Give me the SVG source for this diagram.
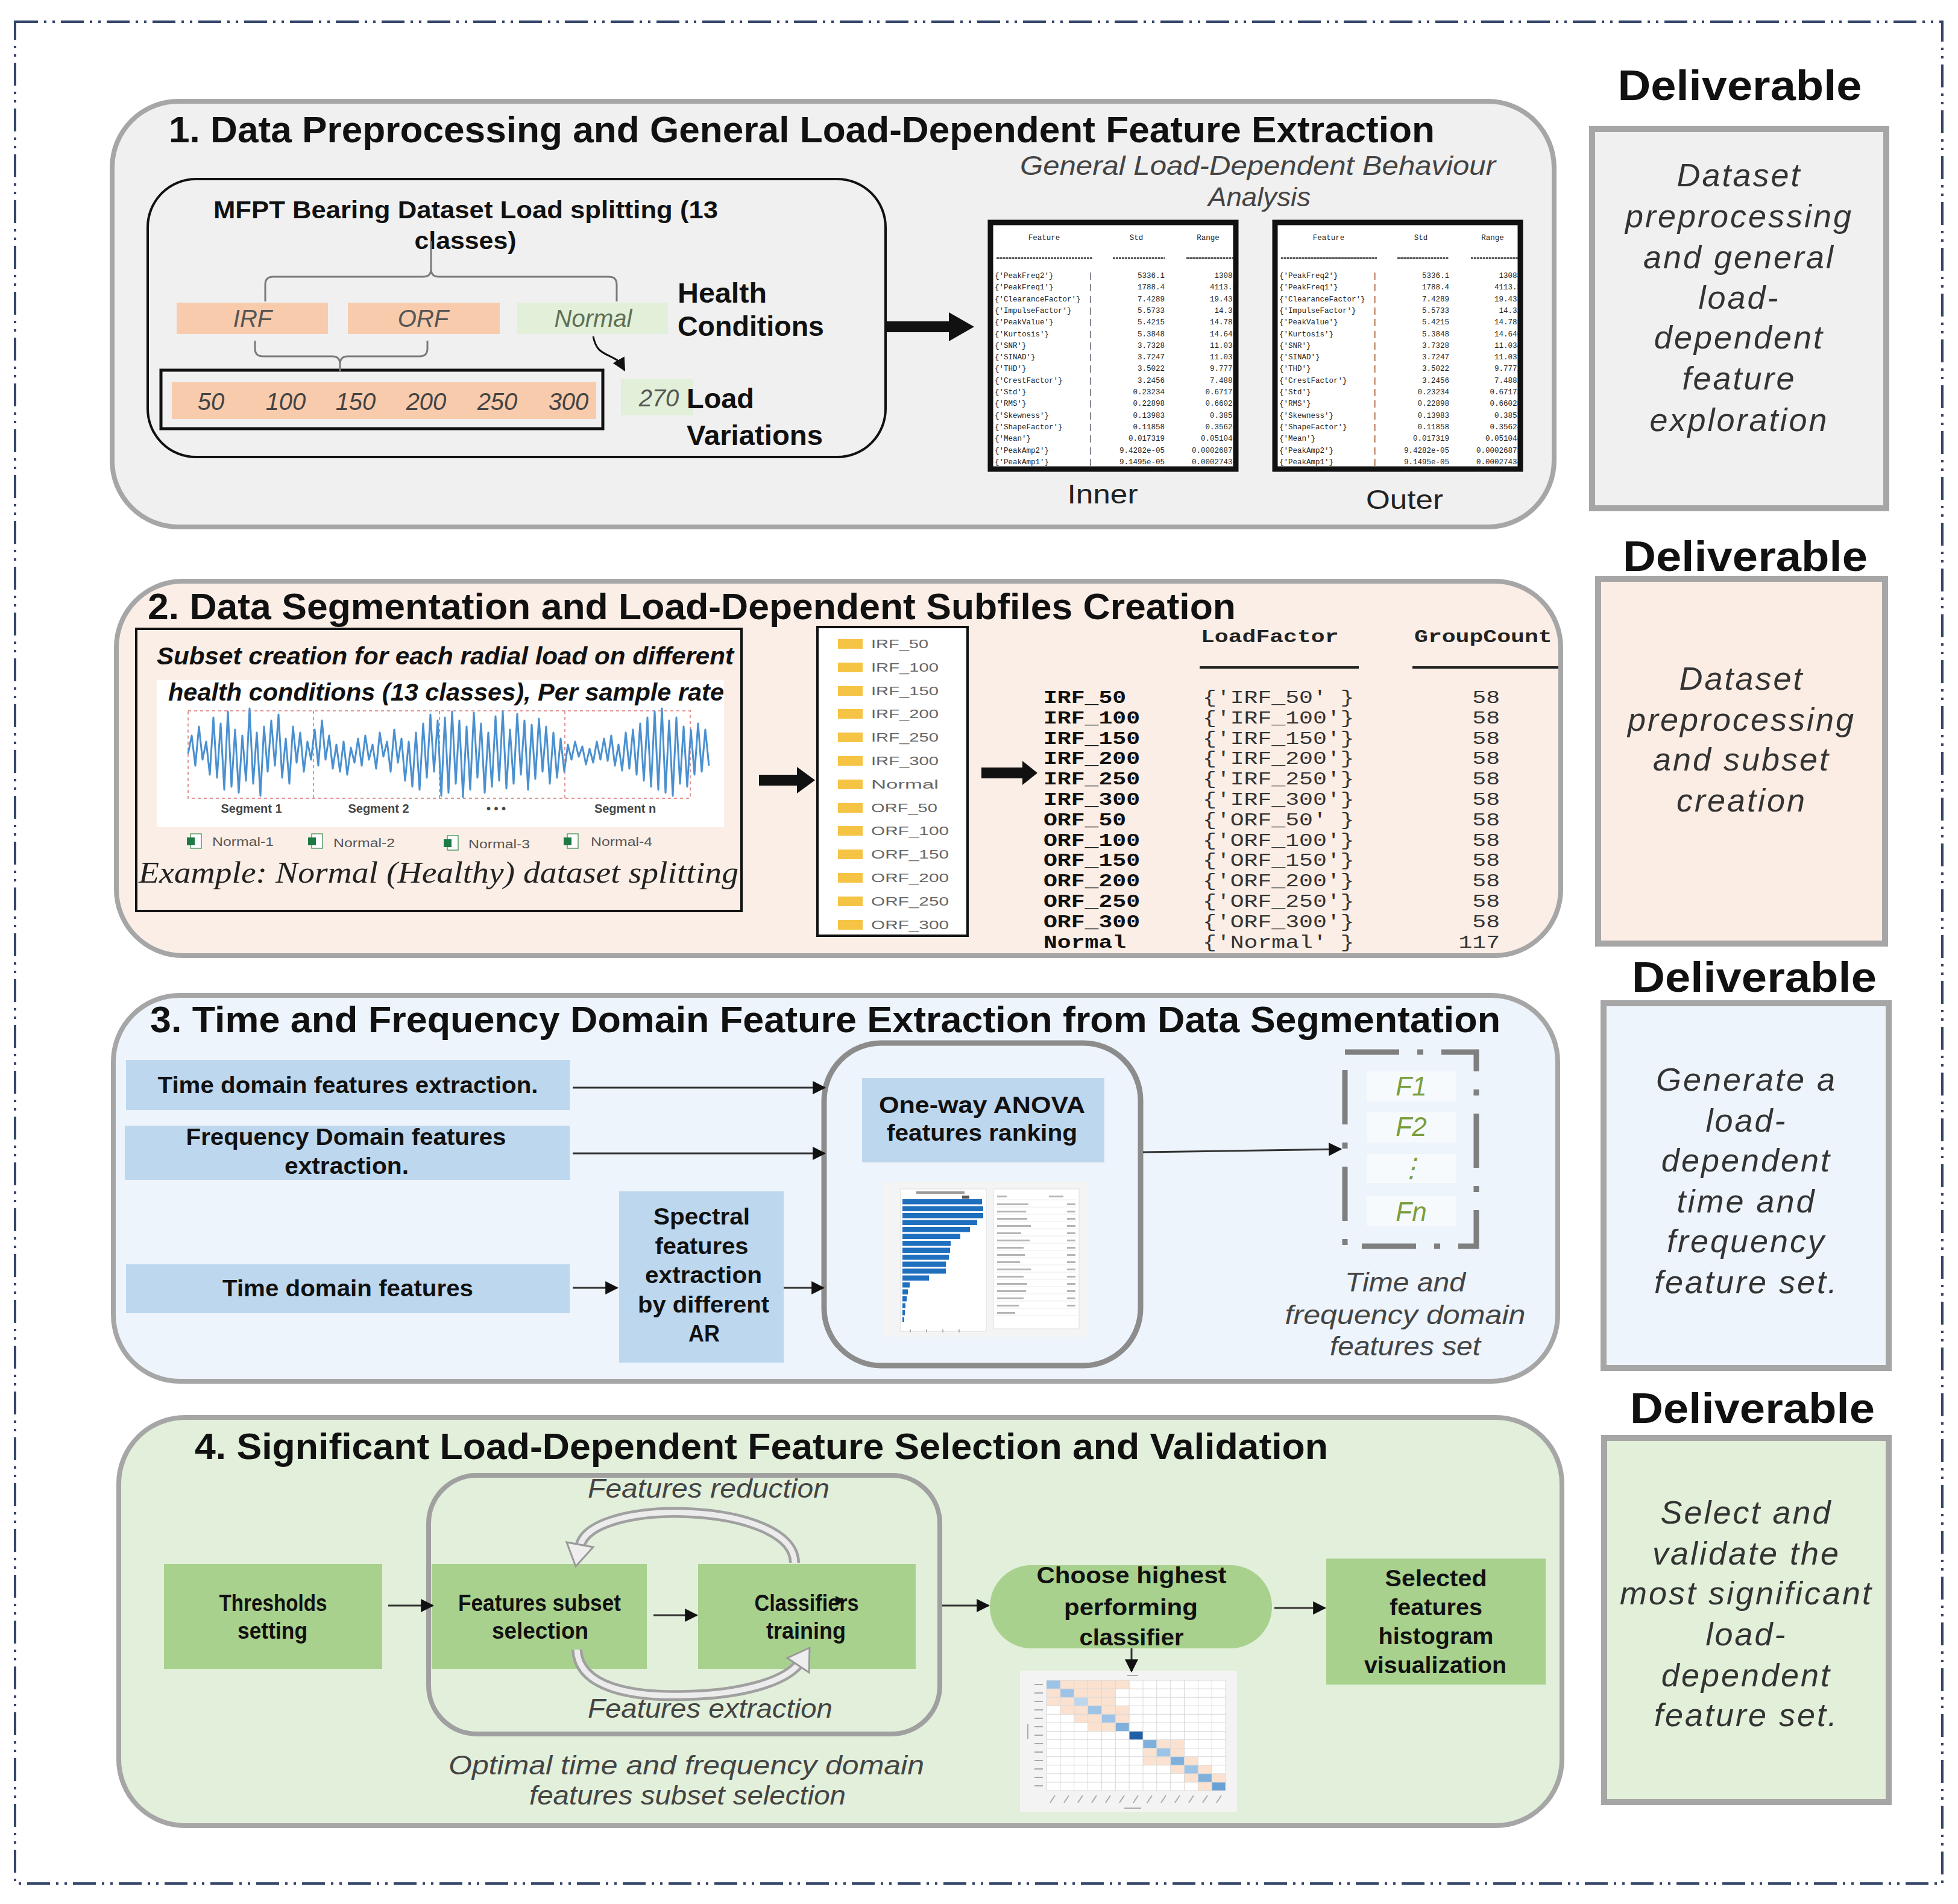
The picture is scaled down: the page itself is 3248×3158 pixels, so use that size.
<svg xmlns="http://www.w3.org/2000/svg" width="3248" height="3158" viewBox="0 0 3248 3158">
<defs>
<style>
.title{font-family:"Liberation Sans",Arial,sans-serif;font-weight:bold;font-size:62px;fill:#111}
.dt{font-family:"Liberation Sans",Arial,sans-serif;font-weight:bold;font-size:70px;fill:#111;text-anchor:middle}
.dv{font-family:"Liberation Sans",Arial,sans-serif;font-style:italic;font-size:54px;letter-spacing:3px;fill:#333;text-anchor:middle}
.dbox{stroke:#a6a6a6;stroke-width:10}
.sec{stroke:#a6a6a6;stroke-width:8}
.b{font-family:"Liberation Sans",Arial,sans-serif;font-weight:bold;font-size:38px;fill:#111;text-anchor:middle}
.bl{font-family:"Liberation Sans",Arial,sans-serif;font-weight:bold;font-size:46px;fill:#111}
.it{font-family:"Liberation Sans",Arial,sans-serif;font-style:italic;font-size:44px;fill:#444}
.hc{font-family:"Liberation Sans",Arial,sans-serif;font-style:italic;font-size:40px;fill:#555;text-anchor:middle}
.sm{font-family:"Liberation Sans",Arial,sans-serif;font-size:20px;fill:#555}
.mono{font-family:"Liberation Mono","Courier New",monospace;font-size:30px;fill:#333}
.tiny{font-family:"Liberation Mono","Courier New",monospace;font-size:12.5px;fill:#222}
.con{stroke:#333;stroke-width:3;fill:none}
.brace{stroke:#7a7a7a;stroke-width:3;fill:none}
.blue{fill:#bdd7ee}
.grn{fill:#a9d18e}
.fold{fill:#f6c445}
.oc{fill:#fbe1cf}
.dc{fill:#9dc3e6}
</style>
<marker id="ah" viewBox="0 0 10 10" refX="9" refY="5" markerWidth="22" markerHeight="22" markerUnits="userSpaceOnUse" orient="auto"><path d="M0,0 L10,5 L0,10 z" fill="#111"/></marker>
<clipPath id="tclip"><rect x="1647" y="373" width="399" height="401"/></clipPath>
<g id="tblc">
<g clip-path="url(#tclip)">
<text class="tiny" text-anchor="middle"><tspan x="1732" y="398">Feature</tspan><tspan x="1885" y="398">Std</tspan><tspan x="2004" y="398">Range</tspan></text>
<path d="M1653,428 H1812 M1846,428 H1932 M1968,428 H2046" stroke="#333" stroke-width="2.5" stroke-dasharray="4 1"/>
<text class="tiny"><tspan x="1650" y="461">{'PeakFreq2'}</tspan><tspan x="1650" y="480.3">{'PeakFreq1'}</tspan><tspan x="1650" y="499.6">{'ClearanceFactor'}</tspan><tspan x="1650" y="518.9">{'ImpulseFactor'}</tspan><tspan x="1650" y="538.2">{'PeakValue'}</tspan><tspan x="1650" y="557.5">{'Kurtosis'}</tspan><tspan x="1650" y="576.8">{'SNR'}</tspan><tspan x="1650" y="596.1">{'SINAD'}</tspan><tspan x="1650" y="615.4">{'THD'}</tspan><tspan x="1650" y="634.7">{'CrestFactor'}</tspan><tspan x="1650" y="654">{'Std'}</tspan><tspan x="1650" y="673.3">{'RMS'}</tspan><tspan x="1650" y="692.6">{'Skewness'}</tspan><tspan x="1650" y="711.9">{'ShapeFactor'}</tspan><tspan x="1650" y="731.2">{'Mean'}</tspan><tspan x="1650" y="750.5">{'PeakAmp2'}</tspan><tspan x="1650" y="769.8">{'PeakAmp1'}</tspan></text>
<text class="tiny"><tspan x="1805" y="461">|</tspan><tspan x="1805" y="480.3">|</tspan><tspan x="1805" y="499.6">|</tspan><tspan x="1805" y="518.9">|</tspan><tspan x="1805" y="538.2">|</tspan><tspan x="1805" y="557.5">|</tspan><tspan x="1805" y="576.8">|</tspan><tspan x="1805" y="596.1">|</tspan><tspan x="1805" y="615.4">|</tspan><tspan x="1805" y="634.7">|</tspan><tspan x="1805" y="654">|</tspan><tspan x="1805" y="673.3">|</tspan><tspan x="1805" y="692.6">|</tspan><tspan x="1805" y="711.9">|</tspan><tspan x="1805" y="731.2">|</tspan><tspan x="1805" y="750.5">|</tspan><tspan x="1805" y="769.8">|</tspan></text>
<text class="tiny" text-anchor="end"><tspan x="1932" y="461">5336.1</tspan><tspan x="1932" y="480.3">1788.4</tspan><tspan x="1932" y="499.6">7.4289</tspan><tspan x="1932" y="518.9">5.5733</tspan><tspan x="1932" y="538.2">5.4215</tspan><tspan x="1932" y="557.5">5.3848</tspan><tspan x="1932" y="576.8">3.7328</tspan><tspan x="1932" y="596.1">3.7247</tspan><tspan x="1932" y="615.4">3.5022</tspan><tspan x="1932" y="634.7">3.2456</tspan><tspan x="1932" y="654">0.23234</tspan><tspan x="1932" y="673.3">0.22898</tspan><tspan x="1932" y="692.6">0.13983</tspan><tspan x="1932" y="711.9">0.11858</tspan><tspan x="1932" y="731.2">0.017319</tspan><tspan x="1932" y="750.5">9.4282e-05</tspan><tspan x="1932" y="769.8">9.1495e-05</tspan></text>
<text class="tiny" text-anchor="end"><tspan x="2052" y="461">13088</tspan><tspan x="2052" y="480.3">4113.5</tspan><tspan x="2052" y="499.6">19.433</tspan><tspan x="2052" y="518.9">14.31</tspan><tspan x="2052" y="538.2">14.781</tspan><tspan x="2052" y="557.5">14.646</tspan><tspan x="2052" y="576.8">11.034</tspan><tspan x="2052" y="596.1">11.031</tspan><tspan x="2052" y="615.4">9.7771</tspan><tspan x="2052" y="634.7">7.4881</tspan><tspan x="2052" y="654">0.67172</tspan><tspan x="2052" y="673.3">0.66028</tspan><tspan x="2052" y="692.6">0.3853</tspan><tspan x="2052" y="711.9">0.35624</tspan><tspan x="2052" y="731.2">0.051048</tspan><tspan x="2052" y="750.5">0.00026873</tspan><tspan x="2052" y="769.8">0.00027434</tspan></text>
</g>
</g>
</defs>
<rect x="0" y="0" width="3248" height="3158" fill="#ffffff"/>
<rect id="outer-border" x="25" y="36" width="3197" height="3088" fill="none" stroke="#34456a" stroke-width="4" stroke-dasharray="38 10 4 10 4 10"/>

<!-- Section 1 -->
<g id="section1">
<rect x="186" y="168" width="2392" height="706" rx="110" fill="#f0f0f0" class="sec"/>
<text class="title" x="280" y="236" textLength="2100" lengthAdjust="spacingAndGlyphs">1. Data Preprocessing and General Load-Dependent Feature Extraction</text>
</g>
<g id="mfpt-box">
<rect x="245" y="297" width="1224" height="461" rx="80" fill="none" stroke="#111" stroke-width="4"/>
<text x="354" y="362" font-family="Liberation Sans, Arial, sans-serif" font-weight="bold" font-size="40" fill="#111" textLength="837" lengthAdjust="spacingAndGlyphs">MFPT Bearing Dataset Load splitting  (13</text>
<text x="772" y="413" font-family="Liberation Sans, Arial, sans-serif" font-weight="bold" font-size="40" fill="#111" text-anchor="middle" textLength="169" lengthAdjust="spacingAndGlyphs">classes)</text>
</g>
<g id="irf">
<rect x="293" y="502" width="251" height="52" fill="#f8cbad"/>
<text class="hc" x="419" y="542">IRF</text>
</g>
<g id="orf">
<rect x="577" y="502" width="252" height="52" fill="#f8cbad"/>
<text class="hc" x="702" y="542">ORF</text>
</g>
<g id="normal">
<rect x="858" y="502" width="250" height="52" fill="#e2efd9"/>
<text class="hc" x="984" y="542" style="fill:#5f6f55">Normal</text>
</g>
<g id="health-label">
<text class="bl" x="1124" y="502" textLength="148" lengthAdjust="spacingAndGlyphs">Health</text>
<text class="bl" x="1124" y="557" textLength="243" lengthAdjust="spacingAndGlyphs">Conditions</text>
</g>
<g id="loads">
<rect x="267" y="614" width="733" height="97" fill="none" stroke="#111" stroke-width="5"/>
<rect x="285" y="634" width="704" height="61" fill="#f8cbad"/>
<text class="hc" style="fill:#444" y="680"><tspan x="350">50</tspan><tspan x="474">100</tspan><tspan x="590">150</tspan><tspan x="707">200</tspan><tspan x="825">250</tspan><tspan x="943">300</tspan></text>
</g>
<g id="load270">
<rect x="1030" y="629" width="120" height="60" fill="#e2efd9"/>
<text class="hc" x="1093" y="674">270</text>
</g>
<g id="load-label">
<text class="bl" x="1139" y="677" textLength="112" lengthAdjust="spacingAndGlyphs">Load</text>
<text class="bl" x="1139" y="738" textLength="226" lengthAdjust="spacingAndGlyphs">Variations</text>
</g>
<g id="behaviour-label">
<text class="it" x="1692" y="290" textLength="789" lengthAdjust="spacingAndGlyphs">General Load-Dependent Behaviour</text>
<text class="it" x="2089" y="342" text-anchor="middle" textLength="170" lengthAdjust="spacingAndGlyphs">Analysis</text>
</g>
<g id="inner-table">
<rect x="1643" y="369" width="407" height="409" fill="#fff" stroke="#111" stroke-width="9"/>
<use href="#tblc"/>
<text x="1829" y="835" font-family="Liberation Sans, Arial, sans-serif" font-size="44" fill="#222" text-anchor="middle" textLength="117" lengthAdjust="spacingAndGlyphs">Inner</text>
</g>
<g id="outer-table">
<rect x="2115" y="369" width="407" height="409" fill="#fff" stroke="#111" stroke-width="9"/>
<use href="#tblc" x="472"/>
<text x="2330" y="844" font-family="Liberation Sans, Arial, sans-serif" font-size="44" fill="#222" text-anchor="middle" textLength="128" lengthAdjust="spacingAndGlyphs">Outer</text>
</g>

<!-- Section 2 -->
<g id="section2">
<rect x="193" y="964" width="2396" height="621" rx="110" fill="#fbeee6" class="sec"/>
<text class="title" x="245" y="1027" textLength="1805" lengthAdjust="spacingAndGlyphs">2. Data Segmentation and Load-Dependent Subfiles Creation</text>
</g>
<g id="subset-box">
<rect x="226" y="1043" width="1004" height="468" fill="none" stroke="#111" stroke-width="4"/>
<rect x="260" y="1128" width="941" height="244" fill="#ffffff"/>
<text x="260" y="1102" font-family="Liberation Sans, Arial, sans-serif" font-weight="bold" font-style="italic" font-size="40" fill="#111" textLength="957" lengthAdjust="spacingAndGlyphs">Subset creation for each radial load on different</text>
<text x="279" y="1162" font-family="Liberation Sans, Arial, sans-serif" font-weight="bold" font-style="italic" font-size="40" fill="#111" textLength="922" lengthAdjust="spacingAndGlyphs">health conditions (13 classes), Per sample rate</text>
<path d="M312,1179 H1145 V1324 H312 Z M520,1179 V1324 M729,1179 V1324 M937,1179 V1324" fill="none" stroke="#e39494" stroke-width="2" stroke-dasharray="5 5"/>
<polyline fill="none" stroke="#4a90d0" stroke-width="3" stroke-linejoin="round" points="312,1250 318,1220 324,1270 330,1205 336,1260 342,1230 348,1285 354,1190 360,1290 366,1200 372,1310 378,1180 384,1305 390,1210 396,1315 402,1220 408,1295 414,1175 420,1300 426,1215 432,1320 438,1205 444,1280 450,1195 456,1270 462,1185 468,1290 474,1225 480,1300 486,1205 492,1265 498,1215 504,1280 510,1230 516,1260 522,1210 528,1270 534,1195 540,1260 546,1220 552,1275 558,1235 564,1280 570,1230 576,1285 582,1240 588,1265 594,1225 600,1270 606,1220 612,1260 618,1235 624,1275 630,1215 636,1255 642,1230 648,1280 654,1210 660,1265 666,1225 672,1295 678,1230 684,1305 690,1215 696,1310 702,1200 708,1290 714,1185 720,1280 726,1195 732,1320 738,1190 744,1315 750,1180 756,1300 762,1195 768,1322 774,1205 780,1310 786,1182 792,1290 798,1200 804,1315 810,1215 816,1305 822,1188 828,1295 834,1180 840,1308 846,1210 852,1300 858,1184 864,1285 870,1195 876,1310 882,1202 888,1292 894,1192 900,1280 906,1205 912,1300 918,1215 924,1290 930,1225 936,1280 942,1235 948,1260 954,1230 960,1255 966,1238 972,1268 978,1242 984,1265 990,1230 996,1260 1002,1225 1008,1262 1014,1220 1020,1270 1026,1235 1032,1278 1038,1215 1044,1275 1050,1210 1056,1285 1062,1200 1068,1295 1074,1190 1080,1305 1086,1180 1092,1310 1098,1175 1104,1315 1110,1195 1116,1320 1122,1190 1128,1300 1134,1205 1140,1305 1146,1210 1152,1285 1158,1200 1164,1280 1170,1210 1176,1270"/>
<text class="sm" font-weight="bold" text-anchor="middle" y="1348" style="fill:#444"><tspan x="417">Segment 1</tspan><tspan x="628">Segment 2</tspan><tspan x="823">• • •</tspan><tspan x="1037">Segment n</tspan></text>
<g>
<rect x="316" y="1383" width="18" height="24" fill="#fff" stroke="#5a9a6a" stroke-width="1.5"/><rect x="310" y="1389" width="13" height="13" fill="#1d7a45"/>
<rect x="517" y="1383" width="18" height="24" fill="#fff" stroke="#5a9a6a" stroke-width="1.5"/><rect x="511" y="1389" width="13" height="13" fill="#1d7a45"/>
<rect x="742" y="1386" width="18" height="24" fill="#fff" stroke="#5a9a6a" stroke-width="1.5"/><rect x="736" y="1392" width="13" height="13" fill="#1d7a45"/>
<rect x="941" y="1383" width="18" height="24" fill="#fff" stroke="#5a9a6a" stroke-width="1.5"/><rect x="935" y="1389" width="13" height="13" fill="#1d7a45"/>
</g>
<text class="sm" x="352" y="1403" textLength="102" lengthAdjust="spacingAndGlyphs">Normal-1</text>
<text class="sm" x="553" y="1405" textLength="102" lengthAdjust="spacingAndGlyphs">Normal-2</text>
<text class="sm" x="777" y="1407" textLength="102" lengthAdjust="spacingAndGlyphs">Normal-3</text>
<text class="sm" x="980" y="1403" textLength="102" lengthAdjust="spacingAndGlyphs">Normal-4</text>
<text x="230" y="1464" font-family="Liberation Serif, 'Times New Roman', serif" font-style="italic" font-size="50" fill="#222" textLength="995" lengthAdjust="spacingAndGlyphs">Example: Normal (Healthy) dataset splitting</text>
</g>
<g id="folder-list">
<rect x="1356" y="1040" width="249" height="512" fill="#ffffff" stroke="#111" stroke-width="4"/>
<g>
<rect class="fold" x="1390" y="1060" width="41" height="16"/>
<rect class="fold" x="1390" y="1099" width="41" height="16"/>
<rect class="fold" x="1390" y="1138" width="41" height="16"/>
<rect class="fold" x="1390" y="1176" width="41" height="16"/>
<rect class="fold" x="1390" y="1215" width="41" height="16"/>
<rect class="fold" x="1390" y="1254" width="41" height="16"/>
<rect class="fold" x="1390" y="1293" width="41" height="16"/>
<rect class="fold" x="1390" y="1332" width="41" height="16"/>
<rect class="fold" x="1390" y="1370" width="41" height="16"/>
<rect class="fold" x="1390" y="1409" width="41" height="16"/>
<rect class="fold" x="1390" y="1448" width="41" height="16"/>
<rect class="fold" x="1390" y="1487" width="41" height="16"/>
<rect class="fold" x="1390" y="1526" width="41" height="16"/>
</g>
<text class="sm" style="fill:#666" x="1445" y="1075" textLength="95" lengthAdjust="spacingAndGlyphs">IRF_50</text>
<text class="sm" style="fill:#666" x="1445" y="1114" textLength="112" lengthAdjust="spacingAndGlyphs">IRF_100</text>
<text class="sm" style="fill:#666" x="1445" y="1153" textLength="112" lengthAdjust="spacingAndGlyphs">IRF_150</text>
<text class="sm" style="fill:#666" x="1445" y="1191" textLength="112" lengthAdjust="spacingAndGlyphs">IRF_200</text>
<text class="sm" style="fill:#666" x="1445" y="1230" textLength="112" lengthAdjust="spacingAndGlyphs">IRF_250</text>
<text class="sm" style="fill:#666" x="1445" y="1269" textLength="112" lengthAdjust="spacingAndGlyphs">IRF_300</text>
<text class="sm" style="fill:#666" x="1445" y="1308" textLength="112" lengthAdjust="spacingAndGlyphs">Normal</text>
<text class="sm" style="fill:#666" x="1445" y="1347" textLength="110" lengthAdjust="spacingAndGlyphs">ORF_50</text>
<text class="sm" style="fill:#666" x="1445" y="1385" textLength="129" lengthAdjust="spacingAndGlyphs">ORF_100</text>
<text class="sm" style="fill:#666" x="1445" y="1424" textLength="129" lengthAdjust="spacingAndGlyphs">ORF_150</text>
<text class="sm" style="fill:#666" x="1445" y="1463" textLength="129" lengthAdjust="spacingAndGlyphs">ORF_200</text>
<text class="sm" style="fill:#666" x="1445" y="1502" textLength="129" lengthAdjust="spacingAndGlyphs">ORF_250</text>
<text class="sm" style="fill:#666" x="1445" y="1541" textLength="129" lengthAdjust="spacingAndGlyphs">ORF_300</text>
</g>
<g id="group-table">
<path d="M1990,1107 H2254 M2343,1107 H2585" stroke="#222" stroke-width="4"/>
<g transform="matrix(1.27,0,0,1,-467.37,0)">
<text class="mono" font-weight="bold" style="fill:#222" y="1065"><tspan x="1936.5">LoadFactor</tspan><tspan x="2215.3">GroupCount</tspan></text>
<text class="mono" font-weight="bold" style="fill:#111"><tspan x="1731" y="1166">IRF_50</tspan><tspan x="1731" y="1199.8">IRF_100</tspan><tspan x="1731" y="1233.6">IRF_150</tspan><tspan x="1731" y="1267.4">IRF_200</tspan><tspan x="1731" y="1301.2">IRF_250</tspan><tspan x="1731" y="1335">IRF_300</tspan><tspan x="1731" y="1368.8">ORF_50</tspan><tspan x="1731" y="1402.6">ORF_100</tspan><tspan x="1731" y="1436.4">ORF_150</tspan><tspan x="1731" y="1470.2">ORF_200</tspan><tspan x="1731" y="1504">ORF_250</tspan><tspan x="1731" y="1537.8">ORF_300</tspan><tspan x="1731" y="1571.6">Normal</tspan></text>
<text class="mono" xml:space="preserve"><tspan x="1938.9" y="1166">{'IRF_50' }</tspan><tspan x="1938.9" y="1199.8">{'IRF_100'}</tspan><tspan x="1938.9" y="1233.6">{'IRF_150'}</tspan><tspan x="1938.9" y="1267.4">{'IRF_200'}</tspan><tspan x="1938.9" y="1301.2">{'IRF_250'}</tspan><tspan x="1938.9" y="1335">{'IRF_300'}</tspan><tspan x="1938.9" y="1368.8">{'ORF_50' }</tspan><tspan x="1938.9" y="1402.6">{'ORF_100'}</tspan><tspan x="1938.9" y="1436.4">{'ORF_150'}</tspan><tspan x="1938.9" y="1470.2">{'ORF_200'}</tspan><tspan x="1938.9" y="1504">{'ORF_250'}</tspan><tspan x="1938.9" y="1537.8">{'ORF_300'}</tspan><tspan x="1938.9" y="1571.6">{'Normal' }</tspan></text>
<text class="mono" text-anchor="end"><tspan x="2327.1" y="1166">58</tspan><tspan x="2327.1" y="1199.8">58</tspan><tspan x="2327.1" y="1233.6">58</tspan><tspan x="2327.1" y="1267.4">58</tspan><tspan x="2327.1" y="1301.2">58</tspan><tspan x="2327.1" y="1335">58</tspan><tspan x="2327.1" y="1368.8">58</tspan><tspan x="2327.1" y="1402.6">58</tspan><tspan x="2327.1" y="1436.4">58</tspan><tspan x="2327.1" y="1470.2">58</tspan><tspan x="2327.1" y="1504">58</tspan><tspan x="2327.1" y="1537.8">58</tspan><tspan x="2327.1" y="1571.6">117</tspan></text>
</g>
</g>

<!-- Section 3 -->
<g id="section3">
<rect x="188" y="1651" width="2396" height="640" rx="110" fill="#edf4fb" class="sec"/>
<text class="title" x="249" y="1712" textLength="2240" lengthAdjust="spacingAndGlyphs">3. Time and Frequency Domain Feature Extraction from Data Segmentation</text>
</g>
<g id="time-extract">
<rect class="blue" x="209" y="1758" width="736" height="83"/>
<text class="b" x="577" y="1813" textLength="631" lengthAdjust="spacingAndGlyphs">Time domain features extraction.</text>
</g>
<g id="freq-extract">
<rect class="blue" x="207" y="1867" width="738" height="90"/>
<text class="b" x="574" y="1899" textLength="531" lengthAdjust="spacingAndGlyphs">Frequency Domain features</text>
<text class="b" x="575" y="1947" textLength="206" lengthAdjust="spacingAndGlyphs">extraction.</text>
</g>
<g id="time-features">
<rect class="blue" x="209" y="2097" width="736" height="81"/>
<text class="b" x="577" y="2150" textLength="416" lengthAdjust="spacingAndGlyphs">Time domain features</text>
</g>
<g id="spectral">
<rect class="blue" x="1027" y="1976" width="273" height="284"/>
<text class="b" x="1164" y="2031" textLength="160" lengthAdjust="spacingAndGlyphs">Spectral</text>
<text class="b" x="1164" y="2080" textLength="155" lengthAdjust="spacingAndGlyphs">features</text>
<text class="b" x="1167" y="2128" textLength="194" lengthAdjust="spacingAndGlyphs">extraction</text>
<text class="b" x="1167" y="2177" textLength="218" lengthAdjust="spacingAndGlyphs">by different</text>
<text class="b" x="1168" y="2225" textLength="52" lengthAdjust="spacingAndGlyphs">AR</text>
</g>
<g id="anova-group">
<rect x="1367" y="1730" width="525" height="535" rx="95" fill="none" stroke="#8c8c8c" stroke-width="9"/>
<rect class="blue" x="1430" y="1788" width="402" height="140"/>
<text class="b" x="1629" y="1846" font-size="40" textLength="342" lengthAdjust="spacingAndGlyphs">One-way ANOVA</text>
<text class="b" x="1629" y="1892" font-size="40" textLength="316" lengthAdjust="spacingAndGlyphs">features ranking</text>
<rect x="1466" y="1960" width="339" height="257" fill="#f4f4f4"/>
<rect x="1494" y="1972" width="142" height="236" fill="#ffffff" stroke="#dddddd" stroke-width="1"/>
<rect x="1520" y="1976" width="80" height="4" fill="#999"/>
<g fill="#1f6fbf">
<rect x="1497" y="1989" width="132" height="8.5"/>
<rect x="1497" y="2000.5" width="134" height="8.5"/>
<rect x="1497" y="2012" width="134" height="8.5"/>
<rect x="1497" y="2023.5" width="124" height="8.5"/>
<rect x="1497" y="2035" width="112" height="8.5"/>
<rect x="1497" y="2046.5" width="96" height="8.5"/>
<rect x="1497" y="2058" width="80" height="8.5"/>
<rect x="1497" y="2069.5" width="79" height="8.5"/>
<rect x="1497" y="2081" width="77" height="8.5"/>
<rect x="1497" y="2092.5" width="72" height="8.5"/>
<rect x="1497" y="2104" width="72" height="8.5"/>
<rect x="1497" y="2115.5" width="44" height="8.5"/>
<rect x="1497" y="2127" width="12" height="8.5"/>
<rect x="1497" y="2138.5" width="9" height="8.5"/>
<rect x="1497" y="2150" width="7" height="8.5"/>
<rect x="1497" y="2161.5" width="5" height="8.5"/>
<rect x="1497" y="2173" width="4" height="8.5"/>
<rect x="1497" y="2184.5" width="3" height="8.5"/>
</g>
<rect x="1596" y="1983" width="12" height="5" fill="#555"/>
<path d="M1510,2205 v5 M1537,2205 v5 M1564,2205 v5 M1591,2205 v5" stroke="#999" stroke-width="1.5"/>
<rect x="1648" y="1972" width="142" height="232" fill="#ffffff" stroke="#dddddd" stroke-width="1"/>
<g fill="#b5b5b5">
<rect x="1654" y="1983" width="16" height="3"/><rect x="1740" y="1983" width="24" height="3"/>
<rect x="1654" y="1996" width="52" height="3"/><rect x="1770" y="1996" width="14" height="3"/>
<rect x="1654" y="2008" width="48" height="3"/><rect x="1770" y="2008" width="14" height="3"/>
<rect x="1654" y="2020" width="50" height="3"/><rect x="1770" y="2020" width="14" height="3"/>
<rect x="1654" y="2032" width="56" height="3"/><rect x="1770" y="2032" width="14" height="3"/>
<rect x="1654" y="2044" width="40" height="3"/><rect x="1770" y="2044" width="14" height="3"/>
<rect x="1654" y="2056" width="54" height="3"/><rect x="1770" y="2056" width="14" height="3"/>
<rect x="1654" y="2068" width="44" height="3"/><rect x="1770" y="2068" width="14" height="3"/>
<rect x="1654" y="2080" width="46" height="3"/><rect x="1770" y="2080" width="14" height="3"/>
<rect x="1654" y="2092" width="38" height="3"/><rect x="1770" y="2092" width="14" height="3"/>
<rect x="1654" y="2104" width="56" height="3"/><rect x="1770" y="2104" width="14" height="3"/>
<rect x="1654" y="2116" width="44" height="3"/><rect x="1770" y="2116" width="14" height="3"/>
<rect x="1654" y="2128" width="50" height="3"/><rect x="1770" y="2128" width="14" height="3"/>
<rect x="1654" y="2140" width="48" height="3"/><rect x="1770" y="2140" width="14" height="3"/>
<rect x="1654" y="2152" width="44" height="3"/><rect x="1770" y="2152" width="14" height="3"/>
<rect x="1654" y="2164" width="36" height="3"/><rect x="1770" y="2164" width="14" height="3"/>
<rect x="1654" y="2176" width="30" height="3"/>
</g>
<path d="M1652,1990 H1786 M1652,2002 H1786 M1652,2014 H1786 M1652,2026 H1786 M1652,2038 H1786 M1652,2050 H1786 M1652,2062 H1786 M1652,2074 H1786 M1652,2086 H1786 M1652,2098 H1786 M1652,2110 H1786 M1652,2122 H1786 M1652,2134 H1786 M1652,2146 H1786 M1652,2158 H1786 M1652,2170 H1786 M1652,2182 H1786" stroke="#ececec" stroke-width="1"/>
</g>
<g id="feature-set">
<rect x="2231" y="1745" width="218" height="322" fill="none" stroke="#7f7f7f" stroke-width="9" stroke-dasharray="90 30 10 30"/>
<rect x="2267" y="1777" width="148" height="50" fill="#f7fafd"/>
<rect x="2267" y="1845" width="148" height="50" fill="#f7fafd"/>
<rect x="2267" y="1914" width="148" height="48" fill="#f7fafd"/>
<rect x="2267" y="1983" width="148" height="50" fill="#f7fafd"/>
<text x="2341" text-anchor="middle" font-family="Liberation Sans, Arial, sans-serif" font-style="italic" font-size="44" fill="#7a9e3e"><tspan x="2341" y="1817">F1</tspan><tspan x="2341" y="1884">F2</tspan><tspan x="2341" y="1952">⋮</tspan><tspan x="2341" y="2025">Fn</tspan></text>
<text class="it" text-anchor="middle" x="2331" y="2142" textLength="200" lengthAdjust="spacingAndGlyphs">Time and</text>
<text class="it" text-anchor="middle" x="2331" y="2196" textLength="399" lengthAdjust="spacingAndGlyphs">frequency domain</text>
<text class="it" text-anchor="middle" x="2331" y="2248" textLength="250" lengthAdjust="spacingAndGlyphs">features set</text>
</g>

<!-- Section 4 -->
<g id="section4">
<rect x="197" y="2351" width="2394" height="677" rx="110" fill="#e2efda" class="sec"/>
<text class="title" x="323" y="2420" textLength="1880" lengthAdjust="spacingAndGlyphs">4. Significant Load-Dependent Feature Selection and Validation</text>
</g>
<g id="loop-box">
<rect x="711" y="2447" width="848" height="429" rx="80" fill="none" stroke="#a0a0a0" stroke-width="8"/>
<text class="it" x="975" y="2484" textLength="401" lengthAdjust="spacingAndGlyphs">Features reduction</text>
<text class="it" x="975" y="2849" textLength="406" lengthAdjust="spacingAndGlyphs">Features extraction</text>
</g>
<g id="thresholds">
<rect class="grn" x="272" y="2594" width="362" height="174"/>
<text class="b" x="453" y="2672" textLength="179" lengthAdjust="spacingAndGlyphs">Thresholds</text>
<text class="b" x="452" y="2718" textLength="116" lengthAdjust="spacingAndGlyphs">setting</text>
</g>
<g id="subset-selection">
<rect class="grn" x="716" y="2594" width="357" height="174"/>
<text class="b" x="895" y="2672" textLength="270" lengthAdjust="spacingAndGlyphs">Features subset</text>
<text class="b" x="896" y="2718" textLength="160" lengthAdjust="spacingAndGlyphs">selection</text>
</g>
<g id="classifiers">
<rect class="grn" x="1158" y="2594" width="361" height="174"/>
<text class="b" x="1338" y="2672" textLength="173" lengthAdjust="spacingAndGlyphs">Classifiers</text>
<text class="b" x="1337" y="2718" textLength="132" lengthAdjust="spacingAndGlyphs">training</text>
</g>
<g id="choose">
<rect class="grn" x="1642" y="2596" width="468" height="138" rx="69"/>
<text class="b" x="1877" y="2626" font-size="40" textLength="315" lengthAdjust="spacingAndGlyphs">Choose highest</text>
<text class="b" x="1876" y="2679" font-size="40" textLength="222" lengthAdjust="spacingAndGlyphs">performing</text>
<text class="b" x="1877" y="2729" font-size="40" textLength="173" lengthAdjust="spacingAndGlyphs">classifier</text>
</g>
<g id="selected">
<rect class="grn" x="2200" y="2585" width="364" height="209"/>
<text class="b" x="2382" y="2631" textLength="169" lengthAdjust="spacingAndGlyphs">Selected</text>
<text class="b" x="2382" y="2679" textLength="154" lengthAdjust="spacingAndGlyphs">features</text>
<text class="b" x="2382" y="2727" textLength="191" lengthAdjust="spacingAndGlyphs">histogram</text>
<text class="b" x="2381" y="2775" textLength="236" lengthAdjust="spacingAndGlyphs">visualization</text>
</g>
<g id="optimal-label">
<text class="it" x="744" y="2943" textLength="789" lengthAdjust="spacingAndGlyphs">Optimal time and frequency domain</text>
<text class="it" x="878" y="2993" textLength="525" lengthAdjust="spacingAndGlyphs">features subset selection</text>
</g>
<g id="confusion-matrix">
<rect x="1692" y="2771" width="360" height="234" fill="#f3f3f3"/>
<rect x="1736" y="2787" width="297" height="183" fill="#ffffff"/>
<g class="oc">
<rect x="1758.9" y="2787" width="22.9" height="14.1"/><rect x="1781.7" y="2787" width="22.9" height="14.1"/><rect x="1804.6" y="2787" width="22.9" height="14.1"/><rect x="1827.4" y="2787" width="22.9" height="14.1"/><rect x="1850.3" y="2787" width="22.9" height="14.1"/>
<rect x="1736" y="2801.1" width="22.9" height="14.1"/><rect x="1781.7" y="2801.1" width="22.9" height="14.1"/><rect x="1804.6" y="2801.1" width="22.9" height="14.1"/><rect x="1827.4" y="2801.1" width="22.9" height="14.1"/>
<rect x="1736" y="2815.2" width="22.9" height="14.1"/><rect x="1758.9" y="2815.2" width="22.9" height="14.1"/><rect x="1804.6" y="2815.2" width="22.9" height="14.1"/><rect x="1827.4" y="2815.2" width="22.9" height="14.1"/>
<rect x="1758.9" y="2829.2" width="22.9" height="14.1"/><rect x="1781.7" y="2829.2" width="22.9" height="14.1"/><rect x="1827.4" y="2829.2" width="22.9" height="14.1"/><rect x="1850.3" y="2829.2" width="22.9" height="14.1"/>
<rect x="1781.7" y="2843.3" width="22.9" height="14.1"/><rect x="1804.6" y="2843.3" width="22.9" height="14.1"/><rect x="1850.3" y="2843.3" width="22.9" height="14.1"/>
<rect x="1804.6" y="2857.4" width="22.9" height="14.1"/><rect x="1827.4" y="2857.4" width="22.9" height="14.1"/>
<rect x="1918.8" y="2885.6" width="22.9" height="14.1"/><rect x="1941.7" y="2885.6" width="22.9" height="14.1"/>
<rect x="1896" y="2899.6" width="22.9" height="14.1"/><rect x="1941.7" y="2899.6" width="22.9" height="14.1"/>
<rect x="1896" y="2913.7" width="22.9" height="14.1"/><rect x="1918.8" y="2913.7" width="22.9" height="14.1"/><rect x="1964.5" y="2913.7" width="22.9" height="14.1"/>
<rect x="1941.7" y="2927.8" width="22.9" height="14.1"/><rect x="1987.4" y="2927.8" width="22.9" height="14.1"/>
<rect x="1964.5" y="2941.9" width="22.9" height="14.1"/><rect x="2010.2" y="2941.9" width="22.9" height="14.1"/>
<rect x="1987.4" y="2956" width="22.9" height="14.1"/>
</g>
<g class="dc">
<rect x="1736" y="2787" width="22.9" height="14.1"/>
<rect x="1758.9" y="2801.1" width="22.9" height="14.1"/>
<rect x="1781.7" y="2815.2" width="22.9" height="14.1" fill="#bdd7ee"/>
<rect x="1804.6" y="2829.2" width="22.9" height="14.1"/>
<rect x="1827.4" y="2843.3" width="22.9" height="14.1"/>
<rect x="1850.3" y="2857.4" width="22.9" height="14.1" fill="#7fb0dc"/>
<rect x="1873.1" y="2871.5" width="22.9" height="14.1" fill="#1f5fa8"/>
<rect x="1896" y="2885.6" width="22.9" height="14.1" fill="#7fb0dc"/>
<rect x="1918.8" y="2899.6" width="22.9" height="14.1"/>
<rect x="1941.7" y="2913.7" width="22.9" height="14.1" fill="#7fb0dc"/>
<rect x="1964.5" y="2927.8" width="22.9" height="14.1"/>
<rect x="1987.4" y="2941.9" width="22.9" height="14.1" fill="#7fb0dc"/>
<rect x="2010.2" y="2956" width="22.9" height="14.1" fill="#6aa1d4"/>
</g>
<path d="M1736,2787 V2970 M1758.9,2787 V2970 M1781.7,2787 V2970 M1804.6,2787 V2970 M1827.4,2787 V2970 M1850.3,2787 V2970 M1873.1,2787 V2970 M1896,2787 V2970 M1918.8,2787 V2970 M1941.7,2787 V2970 M1964.5,2787 V2970 M1987.4,2787 V2970 M2010.2,2787 V2970 M2033,2787 V2970 M1736,2787 H2033 M1736,2801.1 H2033 M1736,2815.2 H2033 M1736,2829.2 H2033 M1736,2843.3 H2033 M1736,2857.4 H2033 M1736,2871.5 H2033 M1736,2885.6 H2033 M1736,2899.6 H2033 M1736,2913.7 H2033 M1736,2927.8 H2033 M1736,2941.9 H2033 M1736,2956 H2033 M1736,2970 H2033" stroke="#d8d8d8" stroke-width="1" fill="none"/>
<path d="M1716,2794 h14 M1716,2808 h14 M1716,2822 h14 M1716,2836 h14 M1716,2850 h14 M1716,2864 h14 M1716,2878 h14 M1716,2892 h14 M1716,2906 h14 M1716,2920 h14 M1716,2934 h14 M1716,2948 h14 M1716,2962 h14" stroke="#aaa" stroke-width="2"/>
<path d="M1705,2860 v24" stroke="#aaa" stroke-width="2"/>
<path d="M1742,2990 l8,-12 M1765,2990 l8,-12 M1788,2990 l8,-12 M1811,2990 l8,-12 M1834,2990 l8,-12 M1857,2990 l8,-12 M1880,2990 l8,-12 M1903,2990 l8,-12 M1926,2990 l8,-12 M1949,2990 l8,-12 M1972,2990 l8,-12 M1995,2990 l8,-12 M2018,2990 l8,-12" stroke="#aaa" stroke-width="2"/>
<path d="M1865,2999 h28 M1870,2779 h18" stroke="#aaa" stroke-width="2"/>
</g>

<!-- Deliverables -->
<g id="deliverable1">
<text class="dt" x="2886" y="166" font-size="68" textLength="405" lengthAdjust="spacingAndGlyphs">Deliverable</text>
<rect class="dbox" x="2641" y="214" width="488" height="629" fill="#f0f0f0"/>
<text class="dv"><tspan x="2885" y="309">Dataset</tspan><tspan x="2885" y="377">preprocessing</tspan><tspan x="2885" y="445">and general</tspan><tspan x="2885" y="512">load-</tspan><tspan x="2885" y="578">dependent</tspan><tspan x="2885" y="646">feature</tspan><tspan x="2885" y="715">exploration</tspan></text>
</g>
<g id="deliverable2">
<text class="dt" x="2895" y="947" textLength="406" lengthAdjust="spacingAndGlyphs">Deliverable</text>
<rect class="dbox" x="2651" y="960" width="476" height="605" fill="#fcede4"/>
<text class="dv"><tspan x="2889" y="1144">Dataset</tspan><tspan x="2889" y="1212">preprocessing</tspan><tspan x="2889" y="1278">and subset</tspan><tspan x="2889" y="1346">creation</tspan></text>
</g>
<g id="deliverable3">
<text class="dt" x="2910" y="1645" textLength="406" lengthAdjust="spacingAndGlyphs">Deliverable</text>
<rect class="dbox" x="2660" y="1664" width="473" height="605" fill="#eef4fc"/>
<text class="dv"><tspan x="2897" y="1809">Generate a</tspan><tspan x="2897" y="1877">load-</tspan><tspan x="2897" y="1943">dependent</tspan><tspan x="2897" y="2011">time and</tspan><tspan x="2897" y="2077">frequency</tspan><tspan x="2897" y="2145">feature set.</tspan></text>
</g>
<g id="deliverable4">
<text class="dt" x="2907" y="2360" textLength="406" lengthAdjust="spacingAndGlyphs">Deliverable</text>
<rect class="dbox" x="2661" y="2385" width="472" height="604" fill="#e2efd9"/>
<text class="dv"><tspan x="2897" y="2527">Select and</tspan><tspan x="2897" y="2595">validate the</tspan><tspan x="2897" y="2661">most significant</tspan><tspan x="2897" y="2729">load-</tspan><tspan x="2897" y="2797">dependent</tspan><tspan x="2897" y="2863">feature set.</tspan></text>
</g>

<!-- Connectors -->
<g id="connectors">
<path class="brace" d="M440,500 L440,472 Q440,459 453,459 L702,459 Q715,459 715,446 L715,400 M715,446 Q715,459 728,459 L1010,459 Q1023,459 1023,472 L1023,500"/>
<path class="brace" d="M423,565 L423,578 Q423,591 436,591 L551,591 Q564,591 564,604 L564,617 M564,604 Q564,591 577,591 L696,591 Q709,591 709,578 L709,565"/>
<path d="M984,558 C990,588 1004,584 1028,600 L1036,614" fill="none" stroke="#111" stroke-width="3" marker-end="url(#ah)"/>
<polygon points="1470,533 1574,533 1574,518 1616,542 1574,566 1574,551 1470,551" fill="#111"/>
<polygon points="1259,1285 1322,1285 1322,1272 1352,1294 1322,1316 1322,1303 1259,1303" fill="#111"/>
<polygon points="1628,1273 1696,1273 1696,1262 1721,1282 1696,1302 1696,1291 1628,1291" fill="#111"/>
<path class="con" d="M950,1804 H1368" marker-end="url(#ah)"/>
<path class="con" d="M950,1913 H1368" marker-end="url(#ah)"/>
<path class="con" d="M950,2136 H1024" marker-end="url(#ah)"/>
<path class="con" d="M1300,2136 H1366" marker-end="url(#ah)"/>
<path class="con" d="M1896,1911 L2224,1906" marker-end="url(#ah)"/>
<path class="con" d="M644,2663 H718" marker-end="url(#ah)"/>
<path class="con" d="M1084,2679 H1156" marker-end="url(#ah)"/>
<path class="con" d="M1563,2663 H1640" marker-end="url(#ah)"/>
<path class="con" d="M2114,2667 H2198" marker-end="url(#ah)"/>
<path class="con" d="M1877,2734 V2772" marker-end="url(#ah)"/>
<path d="M1318,2592 C1318,2490 975,2482 962,2566" fill="none" stroke="#a0a0a0" stroke-width="18"/>
<path d="M1318,2592 C1318,2490 975,2482 962,2566" fill="none" stroke="#ececec" stroke-width="9"/>
<polygon points="955,2598 984,2566 940,2558" fill="#eeeeee" stroke="#999" stroke-width="3"/>
<path d="M957,2736 C960,2800 1050,2815 1140,2812 C1230,2810 1300,2790 1325,2760" fill="none" stroke="#a0a0a0" stroke-width="18"/>
<path d="M957,2736 C960,2800 1050,2815 1140,2812 C1230,2810 1300,2790 1325,2760" fill="none" stroke="#ececec" stroke-width="9"/>
<polygon points="1343,2733 1342,2774 1306,2750" fill="#eeeeee" stroke="#999" stroke-width="3"/>
<polygon points="1386,2647 1402,2655 1386,2663" fill="#111"/>
</g>
</svg>
